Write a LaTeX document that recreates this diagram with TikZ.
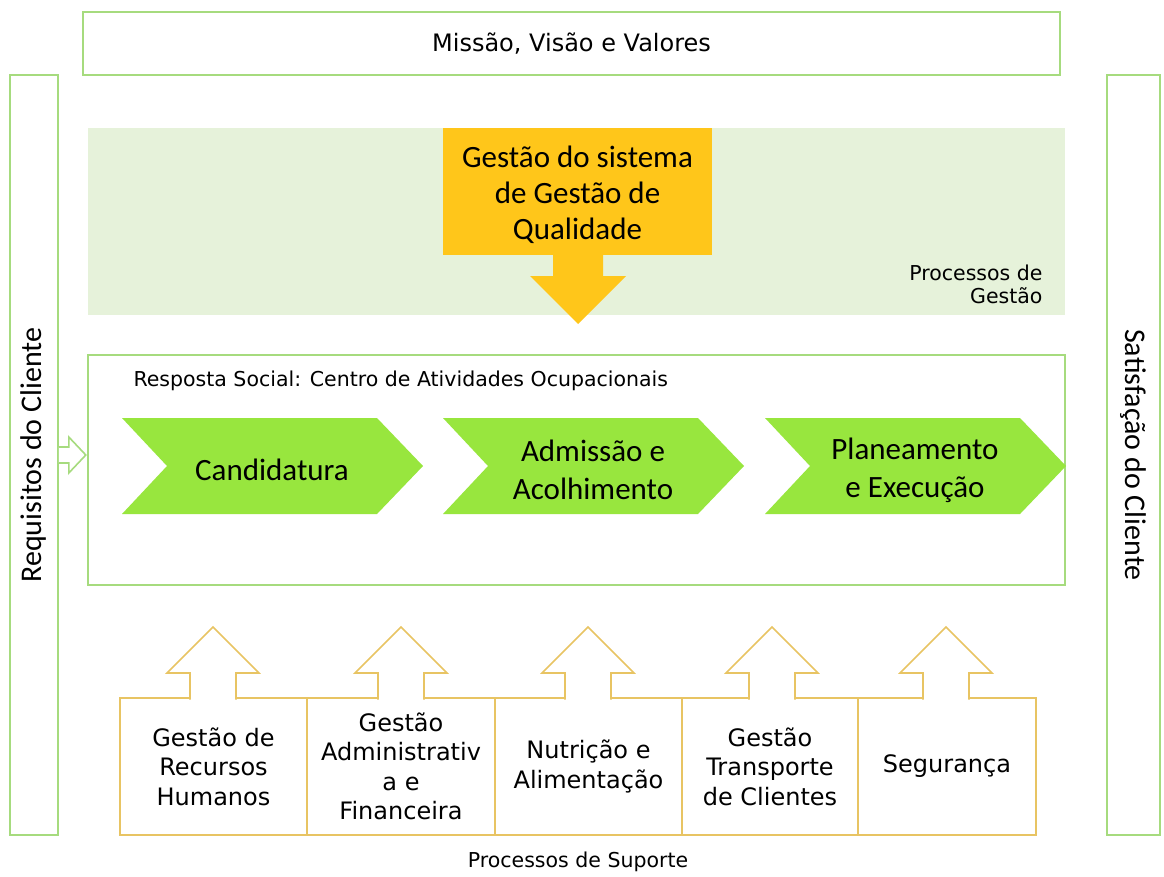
\documentclass[tikz,border=0pt]{standalone}
\usepackage{fontspec}
\setmainfont{DejaVu Sans}
\newfontfamily\calibri{Carlito}
\usepackage{tikz}
\usetikzlibrary{positioning,calc}

\definecolor{bordergreen}{HTML}{A6DB7E}
\definecolor{bandgreen}{HTML}{E6F2DA}
\definecolor{qualyellow}{HTML}{FFC61A}
\definecolor{chevgreen}{HTML}{98E63E}
\definecolor{supgold}{HTML}{E8C463}

\tikzset{
  greenbox/.style={draw=bordergreen, line width=1.6, fill=white, inner sep=0},
  goldline/.style={draw=supgold, line width=1.6, fill=white},
  chevtext/.style={font=\calibri\fontsize{31}{38}\selectfont, align=center},
  suptext/.style={font=\fontsize{24}{29.5}\selectfont, align=center},
  smalltext/.style={font=\fontsize{20.5}{23}\selectfont}
}

\begin{document}
\begin{tikzpicture}[x=1pt, y=-1pt]
   \useasboundingbox (0,0) rectangle (1164,876);
   % top and side boxes
   \node[greenbox, minimum width=977, minimum height=63, font=\fontsize{24}{28}\selectfont] (mvv) at (571.5,43.5) {Missão, Visão e Valores};
   \node[greenbox, minimum width=760, minimum height=48, rotate=90, font=\calibri\fontsize{30}{34}\selectfont] (req) at (34,455) {Requisitos do Cliente};
   \node[greenbox, minimum width=760, minimum height=53, rotate=-90, font=\calibri\fontsize{30}{34}\selectfont] (sat) at (1133.5,455) {Satisfação do Cliente};
   % management band
   \node[fill=bandgreen, minimum width=977, minimum height=187, inner sep=0] (band) at (576.5,221.5) {};
   \node[smalltext, align=right, anchor=east] (pgest) at (1046,284) {Processos de\\Gestão};
   \fill[qualyellow] (443,128) rectangle (712,255);
   \node[chevtext, font=\calibri\fontsize{31}{36}\selectfont] (sgq) at (577.5,195) {Gestão do sistema\\de Gestão de\\Qualidade};
   \fill[qualyellow] (553,254) -- (553,276) -- (530,276) -- (578,324) -- (626,276) -- (603,276) -- (603,254) -- cycle;
   % social response
   \node[greenbox, minimum width=977, minimum height=230] (resp) at (576.5,470) {};
   \node[smalltext, anchor=west] (resptitle) at (130,381) {Resposta Social: Centro de Atividades Ocupacionais};
   \draw[draw=bordergreen, line width=1.6, fill=white] (req.south) ++(0,-8) coordinate (a0)
      -- ++(10,0) -- ++(0,-10) -- ++(17,18) -- ++(-17,18) -- ++(0,-10) -- ++(-10,0);
   \foreach \x/\txt/\nm in {122/Candidatura/c1, 443/{Admissão e\\Acolhimento}/c2, 765/{Planeamento\\e Execução}/c3}{
      \fill[chevgreen] (\x,418) -- (\x+255,418) -- (\x+301,466) -- (\x+255,514) -- (\x,514) -- (\x+45,466) -- cycle;
      \node[chevtext] (\nm) at (\x+150,470) {\txt};
   }
   % support processes
   \begin{scope}[every node/.style={suptext}]
    \node[goldline, minimum width=187, minimum height=137] (s1) at (213.5,766.5) {Gestão de\\Recursos\\Humanos};
    \node[goldline, minimum width=188, minimum height=137] (s2) at (401,766.5) {Gestão\\Administrativ\\a e\\Financeira};
    \node[goldline, minimum width=187, minimum height=137] (s3) at (588.5,766.5) {Nutrição e\\Alimentação};
    \node[goldline, minimum width=176, minimum height=137] (s4) at (770,766.5) {Gestão\\Transporte\\de Clientes};
    \node[goldline, minimum width=178, minimum height=137] (s5) at (947,766.5) {Segurança};
   \end{scope}
   \foreach \c in {213,401,588,772,946}{
      \path[goldline] (\c-23,699.5) -- (\c-23,673) -- (\c-46,673) -- (\c,627) -- (\c+46,673) -- (\c+23,673) -- (\c+23,699.5);
   }
   \node[smalltext] (psup) at (578,862) {Processos de Suporte};
\end{tikzpicture}
\end{document}
